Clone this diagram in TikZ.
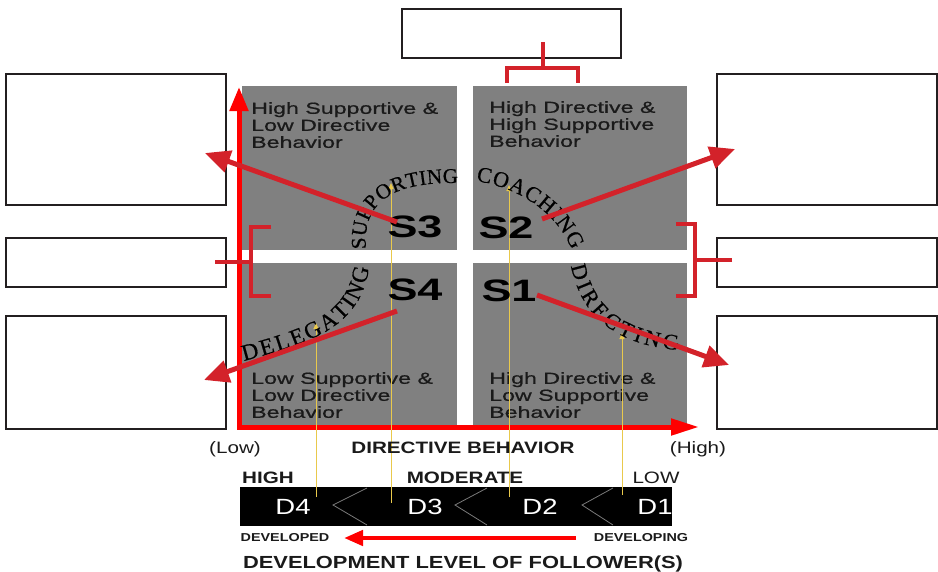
\documentclass[tikz,border=0pt]{standalone}
\usepackage{fontspec}
\setmainfont{Liberation Sans}
\newfontfamily\qfont[FakeStretch=1.45]{Liberation Sans}
\newfontfamily\qfontd[FakeStretch=1.45,FakeBold=0.8]{Liberation Sans}
\newfontfamily\bfont[FakeStretch=1.25]{Liberation Sans}
\newfontfamily\cfont[FakeBold=0.6]{Liberation Serif}
\usetikzlibrary{arrows.meta,decorations.text}

\definecolor{quad}{HTML}{808080}
\definecolor{conred}{HTML}{D3222A}
\definecolor{axred}{HTML}{FF0000}
\definecolor{ylw}{HTML}{E9C94C}
\definecolor{boxline}{HTML}{231F20}
\definecolor{txt}{HTML}{1A1A1A}
\definecolor{chev}{HTML}{7A7A7A}

\newcommand\curvetext{\cfont\fontsize{22}{26}\selectfont}
\newcommand\curvetextsm{\cfont\fontsize{21}{25}\selectfont}
\newcommand\curvetextbig{\cfont\fontsize{23}{27}\selectfont}

\begin{document}
\begin{tikzpicture}[x=1pt,y=-1pt,
  emptybox/.style={draw=boxline, line width=2pt, fill=white, anchor=north west, inner sep=0pt},
  quadbox/.style={fill=quad, draw=none, anchor=north west, inner sep=0pt},
  quadtext/.style={anchor=north west, inner sep=0pt, align=left, text=txt, font=\qfontd\fontsize{16}{17}\selectfont},
  slabel/.style={inner sep=0pt, text=black, font=\qfont\bfseries\fontsize{31}{31}\selectfont},
  dlabel/.style={anchor=base, inner sep=0pt, text=white, font=\bfont\fontsize{22}{22}\selectfont},
  axlabel/.style={anchor=base, inner sep=0pt, text=txt, font=\bfont\fontsize{16.5}{18}\selectfont},
  axlabelb/.style={anchor=base, inner sep=0pt, text=txt, font=\bfont\bfseries\fontsize{16.5}{18}\selectfont},
  smalllabel/.style={anchor=base, inner sep=0pt, text=txt, font=\bfont\bfseries\fontsize{11.5}{13}\selectfont},
  conn/.style={draw=conred, line width=5pt, -{Triangle[length=25pt,width=22pt]}},
  bracket/.style={draw=conred, line width=4.5pt},
  axis/.style={draw=axred, line width=5pt},
  yline/.style={draw=ylw, line width=1pt, -{Triangle[length=6pt,width=5pt]}},
  chevron/.style={draw=chev, line width=0.8pt},
  curved/.style={decorate, decoration={text along path, text align=fit to path, text={|\curvetext|#1}}},
  curvedsm/.style={decorate, decoration={text along path, text align=fit to path, text={|\curvetextsm|#1}}},
  curvedbig/.style={decorate, decoration={text along path, text align=fit to path, text={|\curvetextbig|#1}}}
]
\useasboundingbox (0,0) rectangle (938,571);

% quadrants
\node[quadbox, minimum width=215pt, minimum height=164pt] (qtl) at (242,86) {};
\node[quadbox, minimum width=214pt, minimum height=164pt] (qtr) at (473,86) {};
\node[quadbox, minimum width=215pt, minimum height=162pt] (qbl) at (242,263) {};
\node[quadbox, minimum width=214pt, minimum height=162pt] (qbr) at (473,263) {};

% empty boxes
\node[emptybox, minimum width=219pt, minimum height=49pt] (btop) at (401,8) {};
\node[emptybox, minimum width=220pt, minimum height=131pt] (bl1) at (5,73) {};
\node[emptybox, minimum width=220pt, minimum height=49pt] (bl2) at (5,237) {};
\node[emptybox, minimum width=220pt, minimum height=113pt] (bl3) at (5,315) {};
\node[emptybox, minimum width=220pt, minimum height=131pt] (br1) at (716,73) {};
\node[emptybox, minimum width=220pt, minimum height=49pt] (br2) at (716,237) {};
\node[emptybox, minimum width=220pt, minimum height=113pt] (br3) at (716,315) {};

% quadrant texts
\node[quadtext] (ttl) at (251,102) {High Supportive \&\\Low Directive\\Behavior};
\node[quadtext] (ttr) at (489,101) {High Directive \&\\High Supportive\\Behavior};
\node[quadtext] (tbl) at (251,372) {Low Supportive \&\\Low Directive\\Behavior};
\node[quadtext] (tbr) at (489,372) {High Directive \&\\Low Supportive\\Behavior};

% axes
\coordinate (ytip) at (239,87);
\coordinate (orig) at (239,427);
\coordinate (xtip) at (699,427);
\draw[axis, {Triangle[length=24pt,width=18pt]}-{Triangle[length=28pt,width=16pt]}] (ytip) -- (orig) -- (xtip);

% bottom bar
\node[fill=black, anchor=north west, minimum width=432pt, minimum height=39pt, inner sep=0pt] (bar) at (240,487) {};
\draw[chevron] (367,488) -- (333,505) -- (367,525);
\draw[chevron] (487,488) -- (455,505) -- (487,525);
\draw[chevron] (613,488) -- (582,505) -- (613,525);
\node[dlabel] (d4) at (293,514) {D4};
\node[dlabel] (d3) at (425,514) {D3};
\node[dlabel] (d2) at (540,514) {D2};
\node[dlabel] (d1) at (655,514) {D1};

% yellow lines
\coordinate (y4b) at (316,497); \coordinate (y4t) at (316,323);
\coordinate (y3b) at (391,503); \coordinate (y3t) at (391,183);
\coordinate (y2b) at (509,497); \coordinate (y2t) at (509,185);
\coordinate (y1b) at (622,495); \coordinate (y1t) at (622,333);
\draw[yline] (y4b) -- (y4t);
\draw[yline] (y3b) -- (y3t);
\draw[yline] (y2b) -- (y2t);
\draw[yline] (y1b) -- (y1t);

% axis labels
\node[axlabel] (low) at (235,453) {(Low)};
\node[axlabelb] (dirbeh) at (463,453) {DIRECTIVE BEHAVIOR};
\node[axlabel] (high) at (698,453) {(High)};
\node[axlabelb] (lhigh) at (268,483) {HIGH};
\node[axlabelb] (lmod) at (465,483) {MODERATE};
\node[axlabel] (llow) at (656,483) {LOW};
\node[smalllabel] (developed) at (285,541) {DEVELOPED};
\node[smalllabel] (developing) at (641,541) {DEVELOPING};
\node[axlabelb, font=\bfont\bfseries\fontsize{17.5}{19}\selectfont] (title) at (463,568) {DEVELOPMENT LEVEL OF FOLLOWER(S)};
\coordinate (da1) at (576,538);
\coordinate (da2) at (344,538);
\draw[draw=axred, line width=4.5pt, -{Triangle[length=19pt,width=15pt]}] (da1) -- (da2);

% curved style words
\path[curvedsm=SUPPORTING] (366,249) .. controls (362,200) and (395,182) .. (458,183);
\path[curved=COACHING] (476,181) .. controls (520,188) and (556,212) .. (572,250);
\path[curved=DIRECTING] (571,266) .. controls (582,320) and (620,345) .. (678,350);
\path[curvedbig=DELEGATING] (244,361) .. controls (310,343) and (360,328) .. (369,268);

% S labels
\node[slabel] (s3) at (415,227) {S3};
\node[slabel] (s2) at (506,228) {S2};
\node[slabel] (s4) at (415,290) {S4};
\node[slabel] (s1) at (509,291) {S1};

% red connectors
\coordinate (a3s) at (397,222); \coordinate (a3e) at (205,153);
\coordinate (a2s) at (542,219); \coordinate (a2e) at (735,149);
\coordinate (a4s) at (397,311); \coordinate (a4e) at (204,380);
\coordinate (a1s) at (537,295); \coordinate (a1e) at (729,365);
\draw[conn] (a3s) -- (a3e);
\draw[conn] (a2s) -- (a2e);
\draw[conn] (a4s) -- (a4e);
\draw[conn] (a1s) -- (a1e);

% brackets
\coordinate (tstem) at (543,42);
\coordinate (tmid) at (543,68);
\draw[bracket] (507,83) -- (507,68) -- (578,68) -- (578,83);
\draw[bracket] (tstem) -- (tmid);
\coordinate (lstem) at (215,262);
\coordinate (lmid) at (251,262);
\draw[bracket] (271,227) -- (251,227) -- (251,296) -- (271,296);
\draw[bracket] (lstem) -- (lmid);
\coordinate (rstem) at (732,260);
\coordinate (rmid) at (695,260);
\draw[bracket] (676,224) -- (695,224) -- (695,296) -- (676,296);
\draw[bracket] (rstem) -- (rmid);
\end{tikzpicture}
\end{document}
